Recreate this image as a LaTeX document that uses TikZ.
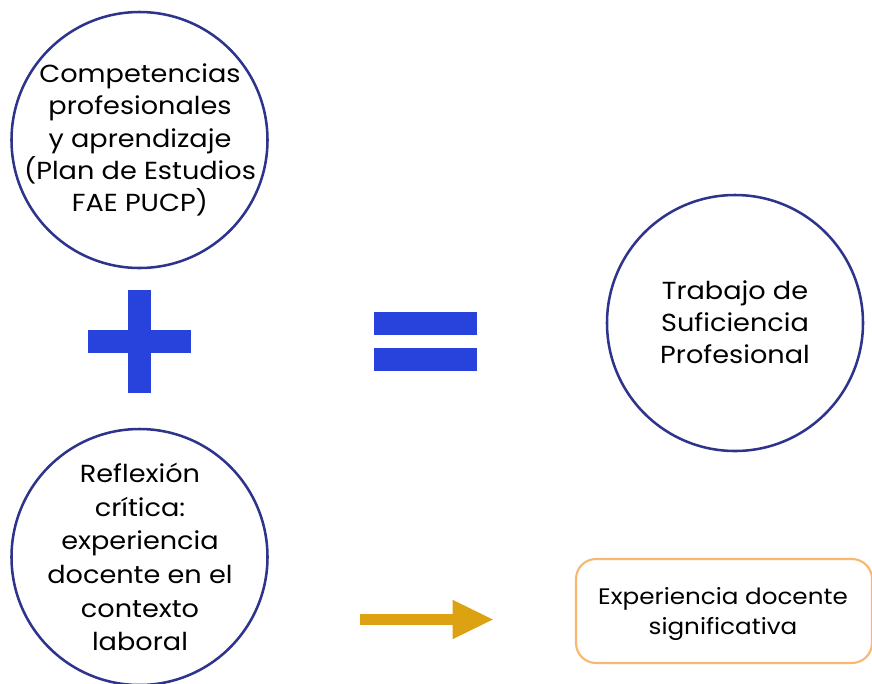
\documentclass[tikz,border=0pt]{standalone}
\usepackage{fontspec}
\setmainfont{Poppins}[FakeStretch=1.1]
\usetikzlibrary{arrows.meta}
\definecolor{navy}{RGB}{46,52,140}
\definecolor{signblue}{RGB}{40,66,220}
\definecolor{gold}{RGB}{220,162,18}
\definecolor{peach}{RGB}{249,184,112}
\tikzset{
  bigcircle/.style={circle, draw=navy, line width=1.9pt, minimum size=192pt, inner sep=0pt},
  circtext/.style={align=center, inner sep=0pt, font=\fontsize{18.5pt}{24.2pt}\selectfont, text=black},
  signbar/.style={fill=signblue, draw=none},
  notebox/.style={draw=peach, line width=1.6pt, rounded corners=15pt, minimum width=222pt, minimum height=78pt},
  notetext/.style={align=center, inner sep=0pt, font=\fontsize{16.8pt}{23pt}\selectfont},
  goldarrow/.style={draw=gold, line width=8.3pt, -{Triangle[length=31pt, width=27pt]}}
}
\begin{document}
\begin{tikzpicture}[x=0.75pt,y=-0.75pt]
\useasboundingbox (0,0) rectangle (872,683);
\node[bigcircle] (comp) at (139.5,140) {};
\node[circtext] (compT) at (140,140) {Competencias\\profesionales\\y aprendizaje\\(Plan de Estudios\\FAE PUCP)};
\node[bigcircle] (refl) at (139.5,557) {};
\node[circtext, font=\fontsize{18.5pt}{25.3pt}\selectfont] (reflT) at (140,557) {Reflexión\\crítica:\\experiencia\\docente en el\\contexto\\laboral};
\node[bigcircle] (tsp) at (735,323) {};
\node[circtext] (tspT) at (735,322) {Trabajo de\\Suficiencia\\Profesional};
% plus sign
\fill[signbar] (128,290) rectangle (151,393);
\fill[signbar] (88,330) rectangle (191,353);
% equals sign
\fill[signbar] (374,312) rectangle (477,335);
\fill[signbar] (374,348) rectangle (477,371);
% note box
\node[notebox] (exp) at (724,611) {};
\node[notetext] (expT) at (723,614) {Experiencia docente\\significativa};
% arrow
\coordinate (arrS) at (360,619.5);
\coordinate (arrE) at (494,619.5);
\draw[goldarrow] (arrS) -- (arrE);
\end{tikzpicture}
\end{document}
